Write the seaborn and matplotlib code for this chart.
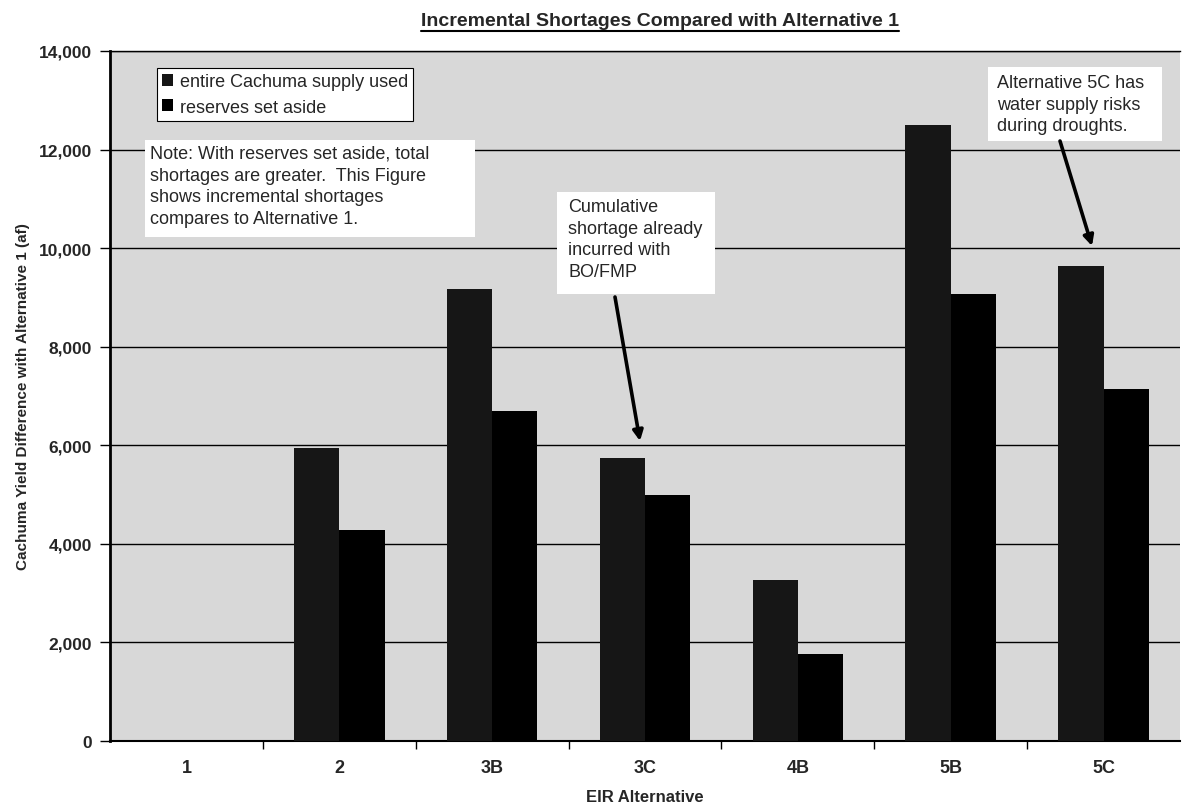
import numpy as np
import pandas as pd
import matplotlib
matplotlib.use("Agg")
import matplotlib.pyplot as plt
import matplotlib.ticker as mticker
from matplotlib.patches import Rectangle
from matplotlib.lines import Line2D
import seaborn as sns

# ---------------- data ----------------
categories = ["1", "2", "3B", "3C", "4B", "5B", "5C"]
entire_supply = [0, 5950, 9180, 5750, 3270, 12500, 9630]
reserves_aside = [0, 4290, 6690, 5000, 1770, 9070, 7150]
series_names = ["entire Cachuma supply used", "reserves set aside"]
y_ticks = [0, 2000, 4000, 6000, 8000, 10000, 12000, 14000]

title_text = "Incremental Shortages Compared with Alternative 1"
x_label = "EIR Alternative"
y_label = "Cachuma Yield Difference with Alternative 1 (af)"
note_text = ("Note: With reserves set aside, total\n"
             "shortages are greater.  This Figure\n"
             "shows incremental shortages\n"
             "compares to Alternative 1.")
cum_text = "Cumulative\nshortage already\nincurred with\nBO/FMP"
alt5c_text = "Alternative 5C has\nwater supply risks\nduring droughts."

df = pd.DataFrame({
    "alt": categories * 2,
    "value": entire_supply + reserves_aside,
    "series": [series_names[0]] * len(categories) + [series_names[1]] * len(categories),
})

# ---------------- style ----------------
sns.set_style("white")
plt.rcParams["font.family"] = ["Liberation Sans", "DejaVu Sans"]

W, H = 1182, 804
fig = plt.figure(figsize=(W / 100, H / 100), dpi=100)
fig.patch.set_facecolor("white")

ax_l, ax_r, ax_t, ax_b = 110, 1180, 52, 742
ax = fig.add_axes([ax_l / W, 1 - ax_b / H, (ax_r - ax_l) / W, (ax_b - ax_t) / H])
ax.set_facecolor("#d8d8d8")


def pa(x, y):
    """pixel position -> axes fraction"""
    return ((x - ax_l) / (ax_r - ax_l), (ax_b - y) / (ax_b - ax_t))


sns.barplot(data=df, x="alt", y="value", hue="series", order=categories,
            hue_order=series_names, palette=["#161616", "#000000"],
            saturation=1, width=0.593, gap=0, dodge=True, errorbar=None,
            linewidth=0, ax=ax, zorder=3)

ax.set_xlim(-0.5, len(categories) - 0.5)
ax.set_ylim(0, 14000)
ax.set_yticks(y_ticks)
ax.yaxis.set_major_formatter(mticker.FuncFormatter(lambda v, p: f"{v:,.0f}"))
ax.yaxis.grid(True, color="black", linewidth=1.0, zorder=1)
ax.xaxis.grid(False)
ax.set_axisbelow(True)

for s in ["left", "bottom", "top"]:
    ax.spines[s].set_visible(True)
    ax.spines[s].set_color("black")
ax.spines["left"].set_linewidth(2.0)
ax.spines["bottom"].set_linewidth(1.5)
ax.spines["top"].set_linewidth(1.0)
ax.spines["right"].set_visible(False)

ax.tick_params(axis="y", which="major", left=True, length=7, width=1,
               color="black", direction="out", pad=6)
ax.tick_params(axis="x", which="major", length=0, pad=13)
ax.set_xticks(np.arange(0.5, len(categories) - 0.5, 1.0), minor=True)
ax.tick_params(axis="x", which="minor", bottom=True, length=6, width=1,
               color="black", direction="out")

for lab in ax.get_yticklabels():
    lab.set_fontsize(12.5)
    lab.set_fontweight("bold")
for lab in ax.get_xticklabels():
    lab.set_fontsize(13)
    lab.set_fontweight("bold")

ax.set_xlabel(x_label, fontsize=12, fontweight="bold", labelpad=9)
ax.set_ylabel(y_label, fontsize=11, fontweight="bold", labelpad=6)

# legend
handles, labels = ax.get_legend_handles_labels()
leg = ax.legend(handles, labels, loc="upper left", bbox_to_anchor=pa(157, 69),
                borderaxespad=0, fontsize=13, handlelength=0.6, handleheight=0.6,
                handletextpad=0.35, borderpad=0.3, labelspacing=0.45,
                frameon=True, fancybox=False, framealpha=1, edgecolor="black")
leg.get_frame().set_linewidth(0.8)
leg.set_zorder(10)

# white annotation boxes
def white_box(x0, y0, x1, y1):
    a0 = pa(x0, y1)
    a1 = pa(x1, y0)
    ax.add_patch(Rectangle(a0, a1[0] - a0[0], a1[1] - a0[1], transform=ax.transAxes,
                           facecolor="white", edgecolor="none", zorder=6))

white_box(145, 141, 475, 238)
white_box(557, 193, 715, 295)
white_box(988, 68, 1162, 142)

LS = 1.36
ax.text(*pa(150, 146), note_text, transform=ax.transAxes, ha="left", va="top",
        fontsize=13, linespacing=LS, zorder=7)
ax.text(*pa(568, 199), cum_text, transform=ax.transAxes, ha="left", va="top",
        fontsize=13, linespacing=LS, zorder=7)
ax.text(*pa(997, 75), alt5c_text, transform=ax.transAxes, ha="left", va="top",
        fontsize=13, linespacing=LS, zorder=7)

# arrows
arrow_kw = dict(arrowstyle="-|>,head_length=0.6,head_width=0.3", color="black",
                lw=2.6, shrinkA=0, shrinkB=0)
ax.annotate("", xy=pa(640, 442), xytext=pa(615, 298), xycoords="axes fraction",
            textcoords="axes fraction", arrowprops=arrow_kw, zorder=8)
ax.annotate("", xy=pa(1092, 247), xytext=pa(1060, 142), xycoords="axes fraction",
            textcoords="axes fraction", arrowprops=arrow_kw, zorder=8)

# title with underline
t = fig.text(660 / W, 1 - 22 / H, title_text, ha="center", va="center",
             fontsize=14, fontweight="bold")
fig.canvas.draw()
bb = t.get_window_extent()
fig.add_artist(Line2D([bb.x0 / W, bb.x1 / W], [(bb.y0 - 1) / H, (bb.y0 - 1) / H],
                      transform=fig.transFigure, color="black", linewidth=1.5))

fig.savefig("out.png", dpi=100, facecolor="white")
